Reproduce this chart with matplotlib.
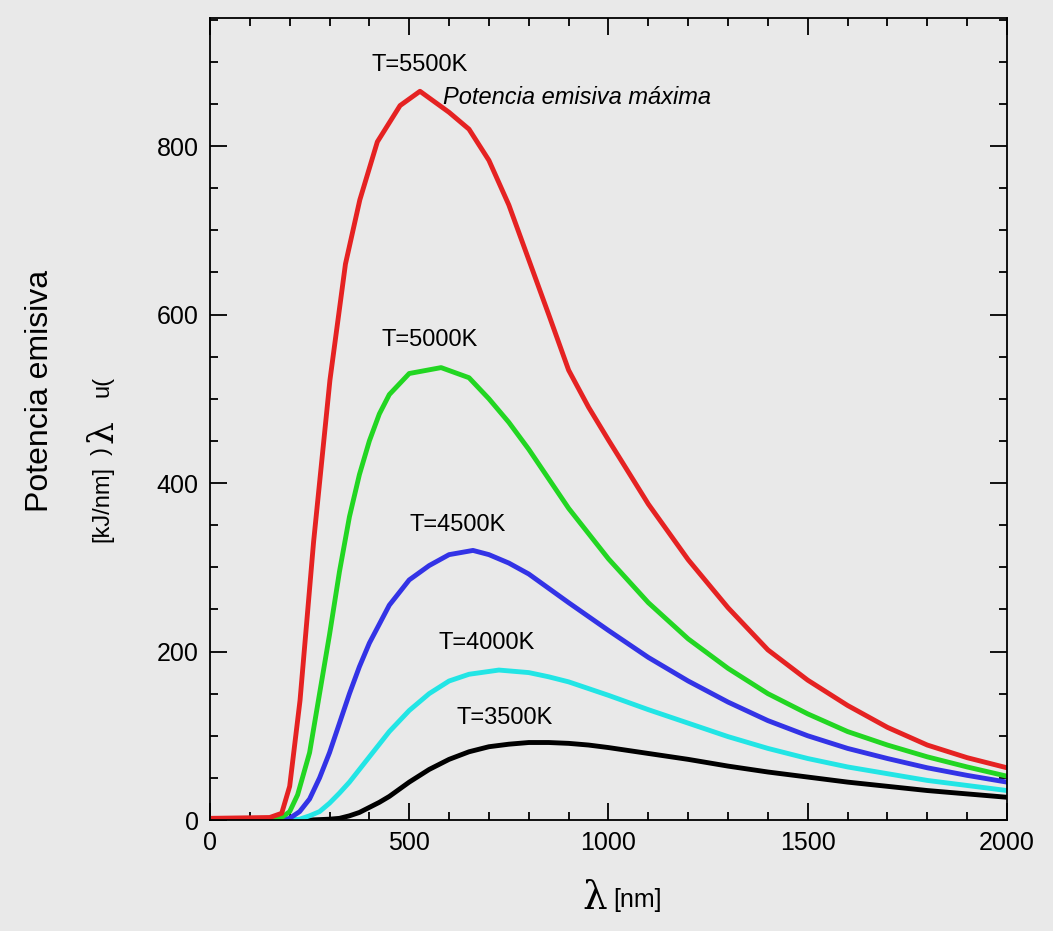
import matplotlib.pyplot as plt
from matplotlib.ticker import MultipleLocator

plt.rcParams['font.family'] = ['Liberation Sans', 'DejaVu Sans']

# wavelength (nm) and emissive power (kJ/nm)
wl_5500 = [0, 150, 180, 200, 226, 260, 301, 340, 376, 420, 477, 527, 600, 650, 700, 750, 800, 850, 900, 950, 1000, 1100, 1200, 1300, 1400, 1500, 1600, 1700, 1800, 1900, 2000]
u_5500  = [2, 3, 8, 40, 142, 330, 522, 660, 736, 805, 848, 865, 840, 820, 783, 730, 665, 600, 534, 490, 451, 375, 309, 252, 202, 166, 136, 110, 89, 74, 62]
wl_5000 = [0, 150, 180, 200, 220, 250, 275, 300, 325, 350, 375, 400, 425, 450, 500, 580, 650, 700, 750, 800, 850, 900, 950, 1000, 1100, 1200, 1300, 1400, 1500, 1600, 1700, 1800, 1900, 2000]
u_5000  = [0, 1, 3, 10, 30, 80, 150, 220, 295, 360, 410, 450, 482, 505, 530, 537, 525, 500, 472, 440, 405, 370, 340, 310, 258, 215, 180, 150, 126, 105, 89, 75, 63, 52]
wl_4500 = [0, 180, 200, 225, 250, 275, 300, 325, 350, 375, 400, 450, 500, 550, 600, 660, 700, 750, 800, 850, 900, 1000, 1100, 1200, 1300, 1400, 1500, 1600, 1700, 1800, 1900, 2000]
u_4500  = [0, 0, 2, 10, 25, 50, 80, 115, 150, 182, 210, 255, 285, 302, 315, 320, 315, 305, 292, 275, 258, 225, 193, 165, 140, 118, 100, 85, 73, 62, 53, 45]
wl_4000 = [0, 200, 225, 250, 275, 300, 325, 350, 375, 400, 425, 450, 500, 550, 600, 650, 725, 800, 850, 900, 1000, 1100, 1200, 1300, 1400, 1500, 1600, 1700, 1800, 1900, 2000]
u_4000  = [0, 0, 1, 5, 10, 20, 32, 45, 60, 75, 90, 105, 130, 150, 165, 173, 178, 175, 170, 164, 148, 131, 115, 99, 85, 73, 63, 55, 47, 41, 35]
wl_3500 = [0, 250, 300, 325, 350, 375, 400, 425, 450, 500, 550, 600, 650, 700, 750, 800, 850, 900, 950, 1000, 1100, 1200, 1300, 1400, 1500, 1600, 1700, 1800, 1900, 2000]
u_3500  = [0, 0, 1, 2, 5, 9, 15, 21, 28, 45, 60, 72, 81, 87, 90, 92, 92, 91, 89, 86, 79, 72, 64, 57, 51, 45, 40, 35, 31, 27]

series = [(wl_3500, u_3500, "black"), (wl_4000, u_4000, "#22e5e5"),
          (wl_4500, u_4500, "#3333e6"), (wl_5000, u_5000, "#22d622"),
          (wl_5500, u_5500, "#e52222")]
labels = [("T=5500K", 527, 896), ("T=5000K", 552, 570), ("T=4500K", 622, 350),
          ("T=4000K", 695, 210), ("T=3500K", 740, 121)]

bg = "#e9e9e9"
fig = plt.figure(figsize=(10.53, 9.31), dpi=100, facecolor=bg)
ax = fig.add_axes([0.1994, 0.1192, 0.7569, 0.8615], facecolor=bg)
for x, y, c in series:
    ax.plot(x, y, color=c, lw=3.5, solid_joinstyle="round")
for t, x, y in labels:
    ax.text(x, y, t, ha="center", va="center", fontsize=17)
ax.text(585, 858, "Potencia emisiva máxima", style="italic", fontsize=17, va="center")

ax.set_xlim(0, 2000)
ax.set_ylim(0, 952)
ax.xaxis.set_major_locator(MultipleLocator(500))
ax.xaxis.set_minor_locator(MultipleLocator(100))
ax.yaxis.set_major_locator(MultipleLocator(200))
ax.yaxis.set_minor_locator(MultipleLocator(50))
ax.tick_params(which="both", direction="in", top=True, right=True, width=1.3)
ax.tick_params(which="major", length=12, labelsize=18, pad=8)
ax.tick_params(which="minor", length=6)
for s in ax.spines.values():
    s.set_linewidth(1.3)

# axis labels
fig.text(0.577, 0.035, "λ", family="DejaVu Serif", fontsize=28, ha="right", va="center")
fig.text(0.582, 0.033, "[nm]", fontsize=18, ha="left", va="center")
fig.text(0.038, 0.58, "Potencia emisiva", fontsize=23, rotation=90, ha="center", va="center")
fig.text(0.097, 0.585, "u(", fontsize=17, rotation=90, ha="center", va="center", transform=fig.transFigure)
fig.text(0.097, 0.536, "λ", family="DejaVu Serif", fontsize=26, rotation=90, ha="center", va="center")
fig.text(0.097, 0.52, ")", fontsize=17, rotation=90, ha="center", va="top")
fig.text(0.097, 0.50, "[kJ/nm]", fontsize=17, rotation=90, ha="center", va="top")
fig.savefig("out.png", dpi=100, facecolor=bg)
